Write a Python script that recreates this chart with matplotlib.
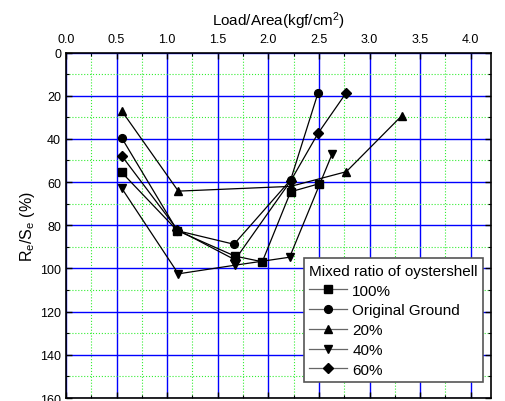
import numpy as np
import matplotlib
matplotlib.use('Agg')
import matplotlib.pyplot as plt
from matplotlib.ticker import MultipleLocator

plt.rcParams['font.family'] = ['Liberation Sans', 'DejaVu Sans']
plt.rcParams['mathtext.fontset'] = 'custom'
plt.rcParams['mathtext.rm'] = 'Liberation Sans'
plt.rcParams['mathtext.it'] = 'Liberation Sans'

# load/area (kgf/cm2) and Re/Se (%)
x_100 = [0.55, 1.10, 1.67, 1.94, 2.22, 2.50]
y_100 = [55.5, 82.5, 94.3, 96.9, 64.5, 60.8]

x_org = [0.55, 1.10, 1.66, 2.22, 2.49]
y_org = [39.5, 82.5, 88.8, 59.0, 18.8]

x_20 = [0.55, 1.11, 2.22, 2.77, 3.32]
y_20 = [27.0, 64.2, 62.0, 55.2, 29.2]

x_40 = [0.55, 1.11, 1.67, 2.21, 2.63]
y_40 = [62.8, 102.5, 98.5, 94.8, 47.0]

x_60 = [0.55, 1.10, 1.67, 2.22, 2.49, 2.77]
y_60 = [47.8, 82.0, 96.0, 59.5, 37.5, 18.6]

series = [
    (x_100, y_100, 's', '100%'),
    (x_org, y_org, 'o', 'Original Ground'),
    (x_20, y_20, '^', '20%'),
    (x_40, y_40, 'v', '40%'),
    (x_60, y_60, 'D', '60%'),
]

fig = plt.figure(figsize=(5.06, 4.02), dpi=100)
ax = fig.add_axes([66/506, 1 - 399/402, 425/506, 345.5/402])

for xs, ys, m, lab in series:
    ms = 4.8 if m == 'D' else 5.6
    ax.plot(xs, ys, color='black', lw=0.9, marker=m, ms=ms, label=lab)

ax.set_xlim(0, 4.2)
ax.set_ylim(160, 0)
ax.xaxis.set_major_locator(MultipleLocator(0.5))
ax.xaxis.set_minor_locator(MultipleLocator(0.25))
ax.yaxis.set_major_locator(MultipleLocator(20))
ax.yaxis.set_minor_locator(MultipleLocator(10))

ax.grid(which='major', color='blue', lw=1.0, ls='-')
ax.grid(which='minor', color='#33ee33', lw=0.8, ls=':')
ax.set_axisbelow(True)

ax.xaxis.tick_top()
ax.xaxis.set_label_position('top')
ax.tick_params(which='both', direction='in', top=True, bottom=True, left=True, right=True,
               labelsize=9, labeltop=True, labelbottom=False)
ax.tick_params(which='major', length=4, width=1)
ax.tick_params(which='minor', length=2, width=0.8)
ax.tick_params(axis='x', which='major', pad=5.5)
for s in ax.spines.values():
    s.set_linewidth(1.2)

ax.set_xlabel(r'Load/Area(kgf/cm$^2$)', fontsize=11, labelpad=6)
ax.set_ylabel(r'R$_e$/S$_e$ (%)', fontsize=11.5, labelpad=2)

leg = ax.legend(title='Mixed ratio of oystershell', loc='lower right',
                bbox_to_anchor=(0.981, 0.046), borderaxespad=0, fontsize=11,
                title_fontsize=11, fancybox=False, framealpha=1,
                edgecolor='#555555', handlelength=2.5, labelspacing=0.38,
                handletextpad=0.33, borderpad=0.35, alignment='left')
leg.get_frame().set_linewidth(1.2)
for h in leg.legend_handles:
    h.set_color('#666666')
    h.set_markerfacecolor('black')
    h.set_markeredgecolor('black')

fig.savefig('out.png', dpi=100)
